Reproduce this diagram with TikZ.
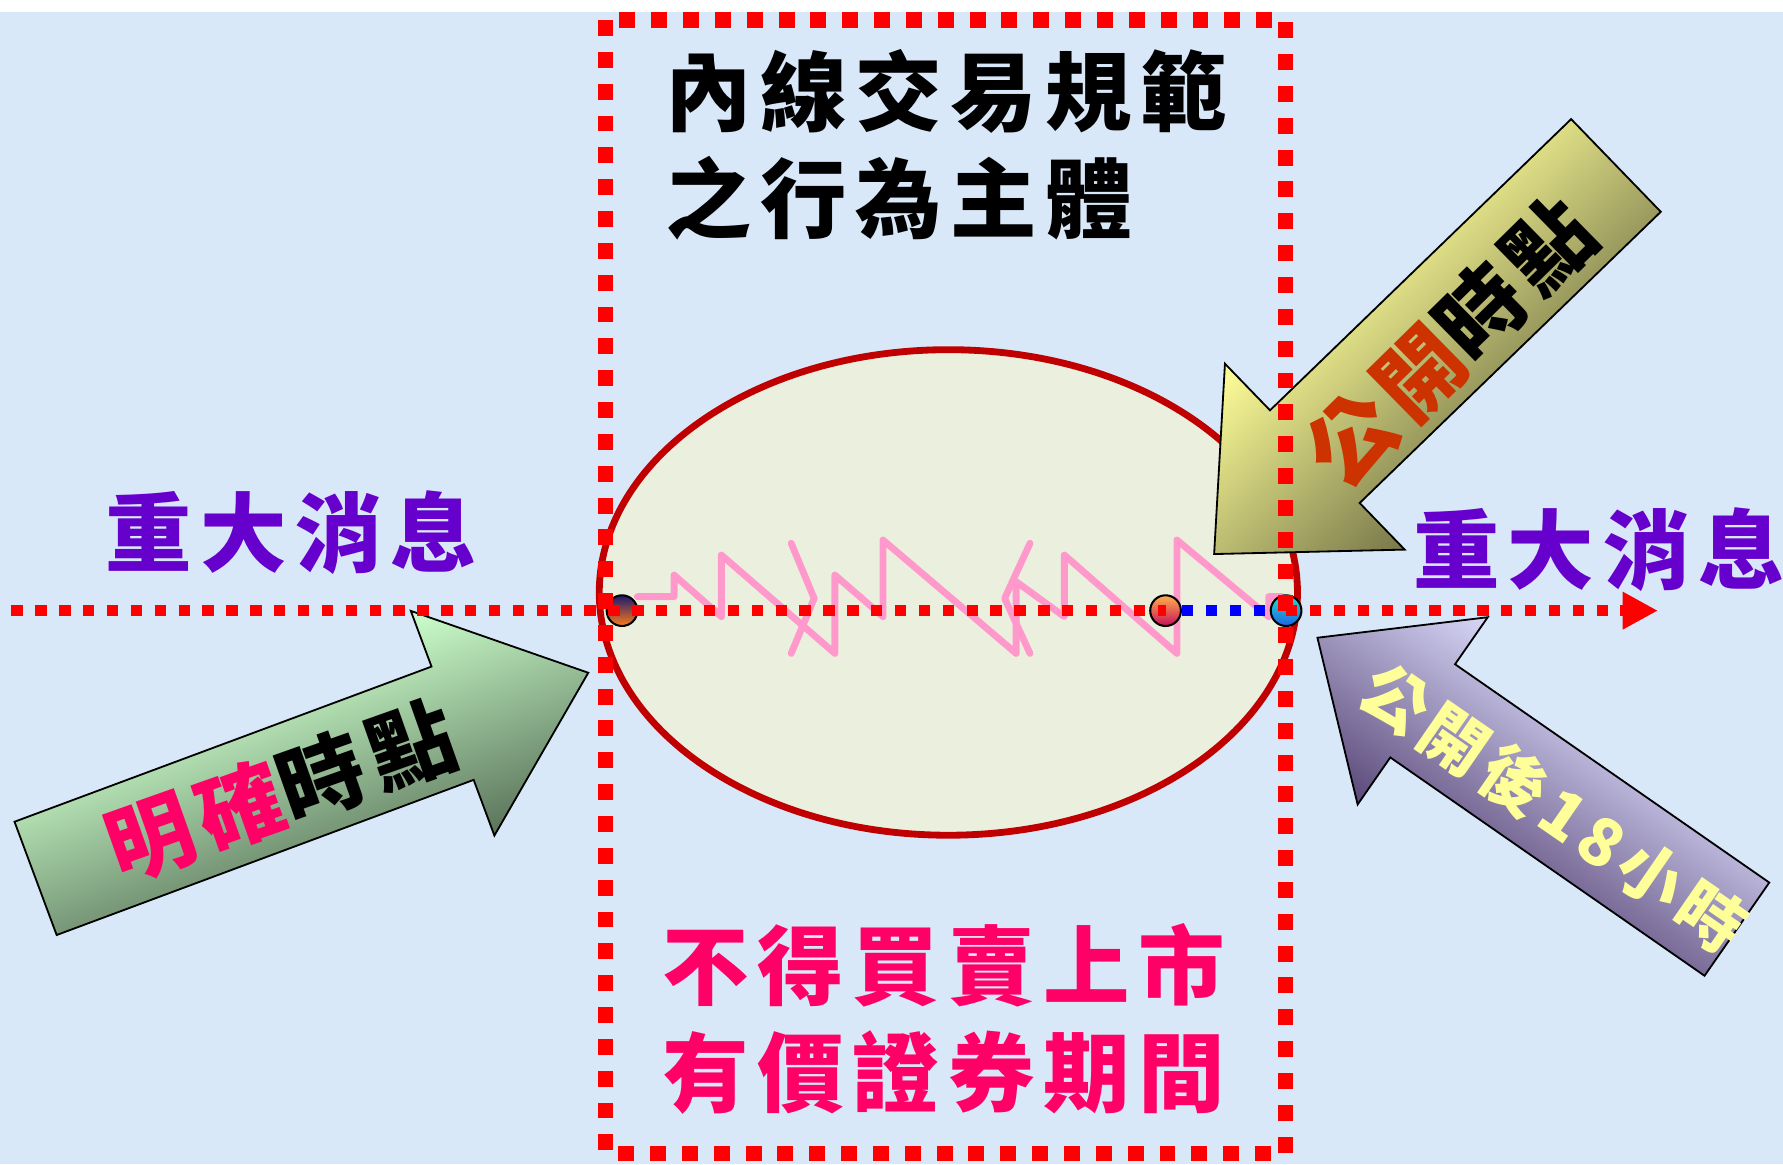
\documentclass[tikz,border=0pt]{standalone}
\usepackage{fontspec}
\newfontfamily\cjk{Noto Sans CJK TC}[LetterSpace=10]
\usetikzlibrary{shapes.geometric,arrows.meta}

\definecolor{bgblue}{HTML}{D9E8F8}
\definecolor{periodfill}{HTML}{EBF0DE}
\definecolor{perioddraw}{HTML}{C00000}
\definecolor{zigpink}{HTML}{FF99CC}
\definecolor{hotpink}{HTML}{FF0066}
\definecolor{newspurple}{HTML}{6600CC}
\definecolor{openred}{HTML}{CC3300}
\definecolor{paleyellow}{HTML}{FFFF99}
\definecolor{greenlight}{HTML}{CCFFCC}
\definecolor{greendark}{HTML}{5A735A}
\definecolor{yellowlight}{HTML}{FFFF99}
\definecolor{yellowdark}{HTML}{77774A}
\definecolor{lilaclight}{HTML}{D8D8F8}
\definecolor{lilacdark}{HTML}{5A4878}

\tikzset{
  bigtext/.style={font=\cjk\bfseries\fontsize{38}{47}\selectfont, inner sep=0pt},
  smalltext/.style={font=\cjk\bfseries\fontsize{29}{38}\selectfont, inner sep=0pt},
  blockarrow/.style={draw=black, line width=0.8pt, line join=miter},
  timedot/.style={circle, draw=black, line width=0.9pt, minimum size=13.5pt, inner sep=0pt},
  timeline/.style={line width=4.7pt, dash pattern=on 5pt off 5.5pt},
  zigzag/.style={zigpink, line width=3pt, line join=round, line cap=round}
}

\begin{document}
\begin{tikzpicture}[x=0.5pt, y=-0.5pt]
  \useasboundingbox (0,0) rectangle (1568,1024);
  \fill[white] (0,0) rectangle (1568,1024);
  \fill[bgblue] (0,10.5) rectangle (1568,1024);

  \node[ellipse, fill=periodfill, draw=perioddraw, line width=3pt,
        minimum width=307pt, minimum height=213.5pt] (period) at (834,521) {};

  \draw[zigzag]
    (560.5,524.7) -- (592.8,524.7) -- (592.8,505.7) -- (634.4,542.3) -- (634.4,488.1)
    -- (734.2,574.6) -- (734.2,505.7) -- (776.5,542.3) -- (776.5,474.9) -- (893.6,574.6)
    -- (893.6,511.5) -- (936.0,542.3) -- (936.0,488.1) -- (1035.0,574.6) -- (1035.0,474.9)
    -- (1115.7,542.3) -- (1115.7,524.7) -- (1127.8,524.7);
  \draw[zigzag] (695.8,477.8) -- (716.0,526.2) -- (695.8,574.6);
  \draw[zigzag] (905.8,477.8) -- (883.5,526.2) -- (905.8,574.6);

  % block arrows, drawn along their own axis
  \begin{scope}[transform canvas={shift={(31.3,772.45)}, rotate=20.41}]
    \draw[blockarrow, top color=greenlight, bottom color=greendark]
      (0,-53.15) -- (391.3,-53.15) -- (391.3,-105.4) -- (518.6,0)
      -- (391.3,105.4) -- (391.3,53.15) -- (0,53.15) -- cycle;
  \end{scope}
  \begin{scope}[transform canvas={shift={(1421.1,145.5)}, rotate=-135.96}]
    \draw[blockarrow, top color=yellowdark, bottom color=yellowlight]
      (0,-56.7) -- (368.4,-56.7) -- (368.4,-113.7) -- (491.6,0)
      -- (368.4,113.7) -- (368.4,56.7) -- (0,56.7) -- cycle;
  \end{scope}
  \begin{scope}[transform canvas={shift={(1527.45,817.1)}, rotate=145.21}]
    \draw[blockarrow, top color=lilacdark, bottom color=lilaclight]
      (0,-49.9) -- (336.5,-49.9) -- (336.5,-100.25) -- (449.2,0)
      -- (336.5,100.25) -- (336.5,49.9) -- (0,49.9) -- cycle;
  \end{scope}

  \node[bigtext, rotate=19.5] (clear) at (247,696) {\textcolor{hotpink}{明確}時點};
  \node[bigtext, rotate=44.5] (open) at (1275,301) {\textcolor{openred}{公開}時點};
  \node[smalltext, rotate=-34.6, text=paleyellow] (after) at (1366,710) {公開後18小時};

  \node[timedot, top color={rgb,255:red,26;green,26;blue,112},
        bottom color={rgb,255:red,255;green,122;blue,26}] (ptA) at (547,537) {};
  \node[timedot, top color={rgb,255:red,255;green,176;blue,80}, middle color={rgb,255:red,250;green,228;blue,225},
        bottom color={rgb,255:red,200;green,16;blue,90}] (ptB) at (1025,537) {};
  \node[timedot, top color={rgb,255:red,34;green,221;blue,204},
        bottom color={rgb,255:red,30;green,100;blue,230}] (ptC) at (1131,537) {};

  \coordinate (start) at (10,537);
  \coordinate (tip) at (1458,537);
  \draw[timeline, red] (start) -- (ptB.center);
  \draw[timeline, blue] (ptB.east) -- (ptC.west);
  \draw[timeline, red, -{Triangle[length=15.5pt, width=15.5pt]}] (ptC.center) -- (tip);

  \draw[red, line width=6.75pt, dash pattern=on 7pt off 7pt] (532.7,17.6) rectangle (1130.7,1014.6);

  \node[bigtext, align=left] (title) at (832,127) {內線交易規範\\之行為主體};
  \node[bigtext, align=center, text=hotpink] (ban) at (830,896) {不得買賣上市\\有價證券期間};
  \node[bigtext, text=newspurple] (newsL) at (256,468) {重大消息};
  \node[bigtext, text=newspurple] (newsR) at (1406,483) {重大消息};
\end{tikzpicture}
\end{document}
